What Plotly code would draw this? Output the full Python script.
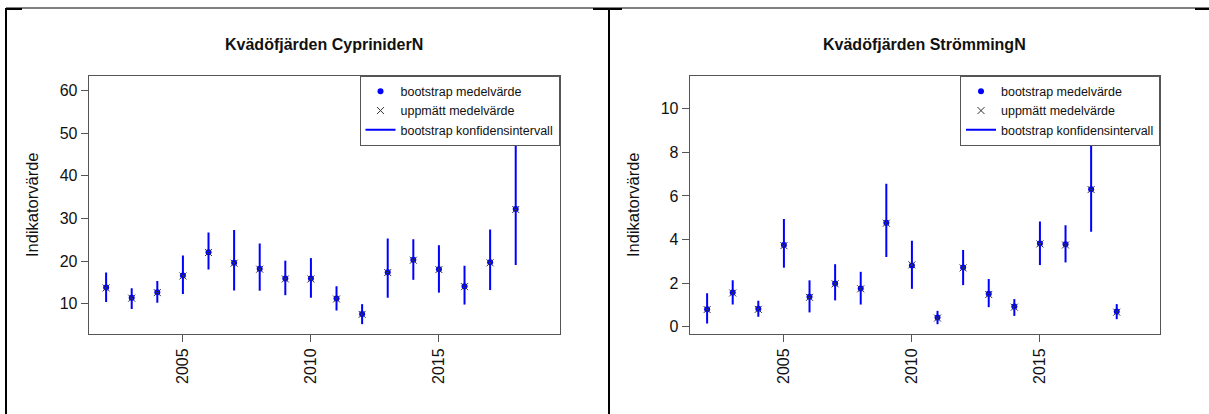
import plotly.graph_objects as go

W, H = 1209, 414

years = list(range(2002, 2019))

# Kvädöfjärden CypriniderN
cyp_boot = [13.8, 11.4, 12.7, 16.6, 22.1, 19.6, 18.2, 15.9, 15.9, 11.2, 7.6, 17.4, 20.3, 18.1, 14.1, 19.7, 32.2]
cyp_meas = [13.7, 11.3, 12.6, 16.5, 22.0, 19.5, 18.1, 15.8, 15.8, 11.1, 7.5, 17.3, 20.2, 18.0, 14.0, 19.6, 32.1]
cyp_low = [10.4, 8.75, 10.2, 12.3, 18.0, 13.1, 13.05, 12.0, 11.4, 8.4, 5.2, 11.4, 15.6, 12.6, 9.8, 13.2, 19.1]
cyp_up = [17.3, 13.6, 15.3, 21.3, 26.7, 27.3, 24.1, 20.1, 20.7, 14.1, 9.9, 25.3, 25.1, 23.7, 18.9, 27.4, 47.2]

# Kvädöfjärden StrömmingN
str_boot = [0.81, 1.57, 0.83, 3.75, 1.38, 1.99, 1.76, 4.77, 2.81, 0.43, 2.72, 1.51, 0.93, 3.82, 3.78, 6.31, 0.70]
str_meas = [0.79, 1.55, 0.80, 3.72, 1.35, 1.97, 1.74, 4.75, 2.84, 0.40, 2.70, 1.48, 0.90, 3.80, 3.75, 6.29, 0.67]
str_low = [0.15, 1.02, 0.46, 2.71, 0.66, 1.21, 1.02, 3.20, 1.74, 0.12, 1.91, 0.90, 0.50, 2.83, 2.95, 4.36, 0.35]
str_up = [1.54, 2.13, 1.19, 4.94, 2.13, 2.87, 2.52, 6.56, 3.94, 0.73, 3.52, 2.19, 1.27, 4.83, 4.66, 8.53, 1.04]

titles = ["Kvädöfjärden CypriniderN", "Kvädöfjärden StrömmingN"]
ylabel = "Indikatorvärde"
leg_names = ["bootstrap medelvärde", "uppmätt medelvärde", "bootstrap konfidensintervall"]
xticks = [2005, 2010, 2015]
yticks_left = [10, 20, 30, 40, 50, 60]
yticks_right = [0, 2, 4, 6, 8, 10]

FONT = "Liberation Sans, Arial, sans-serif"
GREY = "#555555"

def px_x(p):
    return p / W

def px_y(p):
    return 1 - p / H

fig = go.Figure()

panels = [
    dict(boot=cyp_boot, meas=cyp_meas, low=cyp_low, up=cyp_up, xa="x", ya="y", leg="legend"),
    dict(boot=str_boot, meas=str_meas, low=str_low, up=str_up, xa="x2", ya="y2", leg="legend2"),
]

for p in panels:
    cx, cy = [], []
    for yr, lo, hi in zip(years, p["low"], p["up"]):
        cx += [yr, yr, None]
        cy += [lo, hi, None]
    fig.add_trace(go.Scatter(x=cx, y=cy, mode="lines", line=dict(color="#0000FF", width=2),
                             name=leg_names[2], xaxis=p["xa"], yaxis=p["ya"], legend=p["leg"],
                             legendrank=3, hoverinfo="skip"))
    fig.add_trace(go.Scatter(x=years, y=p["boot"], mode="markers",
                             marker=dict(color="#0000FF", size=6, symbol="circle"),
                             name=leg_names[0], xaxis=p["xa"], yaxis=p["ya"], legend=p["leg"],
                             legendrank=1))
    fig.add_trace(go.Scatter(x=years, y=p["meas"], mode="markers",
                             marker=dict(symbol="x-thin", size=7, line=dict(color="#333333", width=1)),
                             name=leg_names[1], xaxis=p["xa"], yaxis=p["ya"], legend=p["leg"],
                             legendrank=2))

# plot area pixel geometry
L1, R1 = 88.7, 559.5
L2, R2 = 689.7, 1160.0
TOP, BOT = 75.7, 334.0

axis_common = dict(showgrid=False, zeroline=False, showline=True, linecolor=GREY, linewidth=1,
                   mirror=True, ticks="outside", ticklen=7, tickcolor=GREY, tickwidth=1,
                   tickfont=dict(family=FONT, size=16, color="#111111"))

fig.update_layout(
    width=W, height=H,
    margin=dict(l=0, r=0, t=0, b=0),
    paper_bgcolor="white", plot_bgcolor="white",
    showlegend=True,
    xaxis=dict(domain=[px_x(L1), px_x(R1)], range=[2001.32, 2019.71], tickvals=xticks,
               tickangle=-90, anchor="y", **axis_common),
    yaxis=dict(domain=[px_y(BOT), px_y(TOP)], range=[2.89, 63.5], tickvals=yticks_left,
               anchor="x", **axis_common),
    xaxis2=dict(domain=[px_x(L2), px_x(R2)], range=[2001.32, 2019.69], tickvals=xticks,
                tickangle=-90, anchor="y2", **axis_common),
    yaxis2=dict(domain=[px_y(BOT), px_y(TOP)], range=[-0.33, 11.51], tickvals=yticks_right,
                anchor="x2", **axis_common),
    legend=dict(x=px_x(R1), y=px_y(TOP), xanchor="right", yanchor="top",
                bgcolor="white", bordercolor=GREY, borderwidth=1,
                font=dict(family=FONT, size=12.5, color="#111111"), tracegroupgap=0),
    legend2=dict(x=px_x(R2), y=px_y(TOP), xanchor="right", yanchor="top",
                 bgcolor="white", bordercolor=GREY, borderwidth=1,
                 font=dict(family=FONT, size=12.5, color="#111111"), tracegroupgap=0),
)

# titles and y labels
for (L, R), t in zip([(L1, R1), (L2, R2)], titles):
    fig.add_annotation(x=px_x((L + R) / 2), y=px_y(44), xref="paper", yref="paper",
                       text="<b>" + t + "</b>", showarrow=False,
                       font=dict(family=FONT, size=16, color="#111111"),
                       xanchor="center", yanchor="middle")
    fig.add_annotation(x=px_x(L - 56.5), y=px_y((TOP + BOT) / 2), xref="paper", yref="paper",
                       text=ylabel, showarrow=False, textangle=-90,
                       font=dict(family=FONT, size=16.5, color="#111111"),
                       xanchor="center", yanchor="middle")

# page/table frame lines
frame = [
    dict(x0=6, y0=8, x1=W, y1=8, w=1),
    dict(x0=6, y0=8, x1=6, y1=H, w=2),
    dict(x0=609, y0=8, x1=609, y1=H, w=2),
    dict(x0=6, y0=9, x1=22, y1=9, w=2),
    dict(x0=593, y0=9, x1=622, y1=9, w=2),
    dict(x0=1195, y0=9, x1=W, y1=9, w=2),
]
for f in frame:
    fig.add_shape(type="line", xref="paper", yref="paper",
                  x0=px_x(f["x0"]), x1=px_x(f["x1"]), y0=px_y(f["y0"]), y1=px_y(f["y1"]),
                  line=dict(color="black", width=f["w"]))

fig.write_html("out.html", config={"displayModeBar": False},
               post_script="document.body.style.margin='0px';document.body.style.overflow='hidden';")
